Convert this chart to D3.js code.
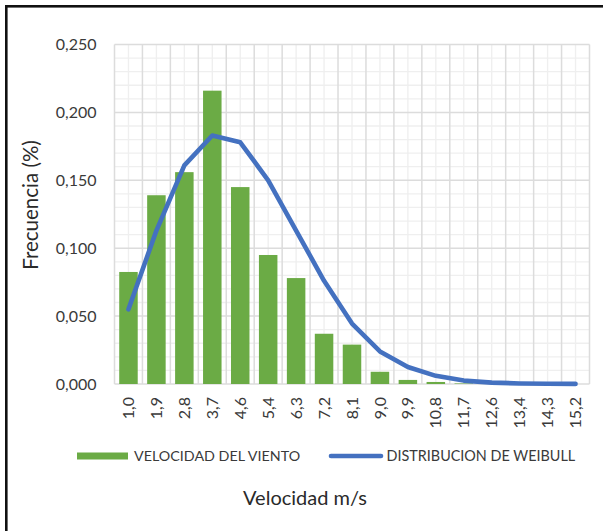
<!DOCTYPE html>
<html>
<head>
<meta charset="utf-8">
<script src="https://cdn.jsdelivr.net/npm/d3@7"></script>
<style>
  html, body { margin: 0; padding: 0; background: #fff; }
  svg { display: block; font-family: Lato, "Open Sans", sans-serif; }
</style>
</head>
<body>
<svg id="chart" width="603" height="531"></svg>
<script>
const categories = ["1,0","1,9","2,8","3,7","4,6","5,4","6,3","7,2","8,1","9,0","9,9","10,8","11,7","12,6","13,4","14,3","15,2"];
const velocidadViento = [0.0825,0.139,0.156,0.216,0.145,0.095,0.078,0.037,0.029,0.009,0.003,0.0015,0.0004,0.0002,0.0001,0.0001,0.0];
const weibull = [0.055,0.113,0.161,0.183,0.178,0.150,0.113,0.076,0.0445,0.024,0.0125,0.006,0.0025,0.001,0.0004,0.0002,0.0001];
const yTicks = [0,0.05,0.1,0.15,0.2,0.25];
const seriesNames = ["VELOCIDAD DEL VIENTO","DISTRIBUCION DE WEIBULL"];
const yTitle = "Frecuencia (%)";
const xTitle = "Velocidad m/s";

const svg = d3.select("#chart");
const plot = {left: 114.5, right: 589.5, top: 44.5, bottom: 384};

// frame (partially cropped)
svg.append("rect").attr("x", 6.3).attr("y", 6.3).attr("width", 640).attr("height", 600)
  .attr("fill", "none").attr("stroke", "#111").attr("stroke-width", 2.6);

const x = d3.scaleBand().domain(categories).range([plot.left, plot.right])
  .paddingInner(0.338).paddingOuter(0.169);
const y = d3.scaleLinear().domain([0, 0.25]).range([plot.bottom, plot.top]);

const g = svg.append("g");
// minor horizontal grid
const minorY = d3.range(0, 0.2501, 0.01).filter(v => Math.abs((v*100) % 5) > 0.01 && Math.abs((v*100)%5 - 5) > 0.01);
g.selectAll(".minh").data(minorY).join("line")
  .attr("x1", plot.left).attr("x2", plot.right)
  .attr("y1", d => y(d)).attr("y2", d => y(d))
  .attr("stroke", "#efefef").attr("stroke-width", 1.3);
// minor vertical grid at category centers
g.selectAll(".minv").data(categories).join("line")
  .attr("x1", d => x(d) + x.bandwidth()/2).attr("x2", d => x(d) + x.bandwidth()/2)
  .attr("y1", plot.top).attr("y2", plot.bottom)
  .attr("stroke", "#efefef").attr("stroke-width", 1.3);
// major horizontal grid
g.selectAll(".majh").data(yTicks).join("line")
  .attr("x1", plot.left).attr("x2", plot.right)
  .attr("y1", d => y(d)).attr("y2", d => y(d))
  .attr("stroke", "#dcdcdc").attr("stroke-width", 1.5);
// major vertical grid at category boundaries
const step = x.step();
const bounds = d3.range(categories.length + 1).map(i => plot.left + i*step);
g.selectAll(".majv").data(bounds).join("line")
  .attr("x1", d => d).attr("x2", d => d)
  .attr("y1", plot.top).attr("y2", plot.bottom)
  .attr("stroke", "#dcdcdc").attr("stroke-width", 1.5);

// bars
svg.append("g").selectAll("rect").data(velocidadViento).join("rect")
  .attr("x", (d, i) => x(categories[i]))
  .attr("width", x.bandwidth())
  .attr("y", d => y(d))
  .attr("height", d => plot.bottom - y(d))
  .attr("fill", "#6bab45");

// line
const line = d3.line().x((d, i) => x(categories[i]) + x.bandwidth()/2).y(d => y(d));
svg.append("path").datum(weibull).attr("d", line)
  .attr("fill", "none").attr("stroke", "#4471c0").attr("stroke-width", 4.6)
  .attr("stroke-linecap", "round").attr("stroke-linejoin", "round");

// y axis labels
const yAxis = d3.axisLeft(y).tickValues(yTicks).tickSize(0).tickPadding(18)
  .tickFormat(d => d3.format(".3f")(d).replace(".", ","));
const ya = svg.append("g").attr("transform", `translate(${plot.left},0)`).call(yAxis);
ya.select(".domain").remove();
ya.selectAll("text").attr("font-size", 16).attr("fill", "#3a3a3a").attr("font-family", "Lato");

// x axis labels
const xAxis = d3.axisBottom(x).tickSize(0).tickPadding(0);
const xa = svg.append("g").attr("transform", `translate(0,${plot.bottom})`).call(xAxis);
xa.select(".domain").remove();
xa.selectAll("text")
  .attr("transform", "translate(0,13) rotate(-90)")
  .attr("x", 0).attr("y", 0).attr("dy", "0.35em")
  .attr("text-anchor", "end")
  .attr("font-size", 16).attr("fill", "#3a3a3a").attr("font-family", "Lato");

// y title
svg.append("text").attr("transform", "translate(38,205) rotate(-90)")
  .attr("text-anchor", "middle").attr("font-size", 20.5).attr("fill", "#2a2a2a").text(yTitle);

// x title
svg.append("text").attr("x", 305).attr("y", 505)
  .attr("text-anchor", "middle").attr("font-size", 20).attr("fill", "#2a2a2a").text(xTitle);

// legend
const lg = svg.append("g");
lg.append("rect").attr("x", 77).attr("y", 452.5).attr("width", 51).attr("height", 7).attr("fill", "#6bab45");
lg.append("text").attr("x", 134).attr("y", 461).attr("font-size", 14.3).attr("fill", "#3a3a3a").text(seriesNames[0]);
lg.append("line").attr("x1", 331).attr("x2", 381).attr("y1", 456).attr("y2", 456)
  .attr("stroke", "#4471c0").attr("stroke-width", 4.6).attr("stroke-linecap", "round");
lg.append("text").attr("x", 386.5).attr("y", 461).attr("font-size", 14.4).attr("fill", "#3a3a3a").text(seriesNames[1]);
</script>
</body>
</html>
